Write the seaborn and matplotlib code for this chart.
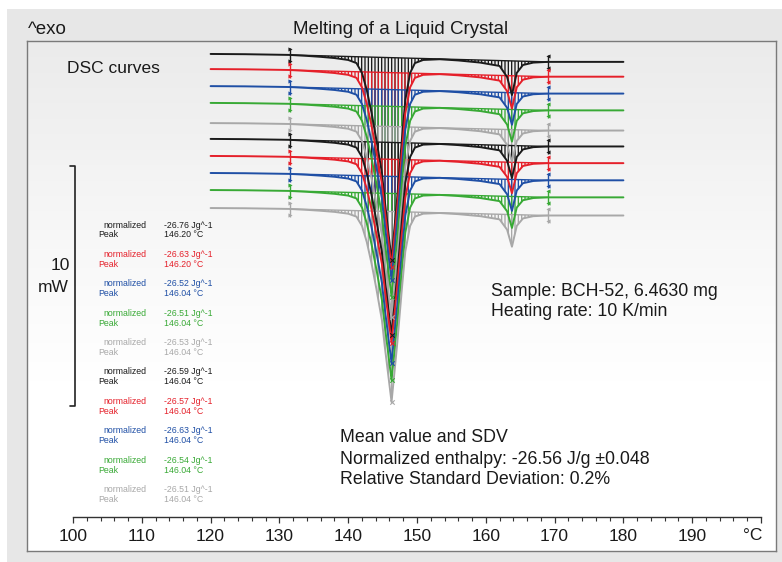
import numpy as np
import pandas as pd
import matplotlib
matplotlib.use("Agg")
import matplotlib.pyplot as plt
import seaborn as sns
from matplotlib.patches import Rectangle
from matplotlib.colors import LinearSegmentedColormap

# ---------------- data ----------------
# common DSC curve shape (mW, relative to curve start), temperatures in °C
temps = [120, 125, 131.5, 134, 136, 138, 140, 141.2, 142, 142.7,
         143.4, 144.1, 144.9, 145.3, 146.3, 147.1, 147.8, 148.3, 149.0, 149.7,
         150.9, 153.3, 156, 159.2, 162, 163.1, 163.8, 164.5, 165.4, 166.9,
         169, 175, 180]
shape_mw = [0, -0.01, -0.04, -0.08, -0.12, -0.17, -0.25, -0.38, -0.79, -1.50,
            -2.46, -3.58, -4.96, -6.08, -8.58, -6.08, -3.58, -1.92, -0.79, -0.38,
            -0.25, -0.22, -0.27, -0.36, -0.50, -0.96, -1.71, -0.79, -0.46, -0.36,
            -0.33, -0.33, -0.33]
# per run: vertical offset of curve start and depth of main melting peak (mW)
start_mw = [-0.54, -1.17, -1.88, -2.58, -3.42, -4.08, -4.79, -5.50, -6.21, -6.96]
peak_depth_mw = [8.58, 8.25, 8.08, 8.08, 8.08, 8.17, 7.79, 7.92, 7.92, 8.08]
run_colors = ["#1b1b1b", "#e5202a", "#1f4fa5", "#38a935", "#a8a8a8",
              "#1b1b1b", "#e5202a", "#1f4fa5", "#38a935", "#a8a8a8"]
enthalpy = ["-26.76", "-26.63", "-26.52", "-26.51", "-26.53",
            "-26.59", "-26.57", "-26.63", "-26.54", "-26.51"]
peak_temp = ["146.20", "146.20", "146.04", "146.04", "146.04",
             "146.04", "146.04", "146.04", "146.04", "146.04"]
integration_limits = [131.5, 169.0]
peak_T = 146.3
xticks = list(range(100, 201, 10))
xticklabels = [str(t) for t in range(100, 200, 10)] + [""]
scale_bar_mw = [-5.2, -15.2]

# ---------------- figure ----------------
sns.set_theme(style="white")
plt.rcParams["font.family"] = ["Liberation Sans", "DejaVu Sans"]
plt.rcParams["hatch.linewidth"] = 0.95

TXT = "#1a1a1a"
W, H = 782, 562
fig = plt.figure(figsize=(W / 100, H / 100), dpi=100, facecolor="white")


def fx(x):
    return x / W


def fy(y):
    return 1 - y / H


# outer grey panel
fig.patches.append(Rectangle((fx(7), 0), 1 - fx(7), fy(9), transform=fig.transFigure,
                             facecolor="#e7e7e7", edgecolor="none", zorder=-20))

# framed plotting area with soft gradient
fa = fig.add_axes([fx(27), fy(551), fx(776) - fx(27), fy(41) - fy(551)], zorder=-5)
cmap = LinearSegmentedColormap.from_list("bg", ["#ebebeb", "#f6f6f6", "#ffffff", "#ffffff"])
fa.imshow(np.linspace(0, 1, 256).reshape(-1, 1), aspect="auto", cmap=cmap,
          extent=[0, 1, 0, 1], origin="upper")
fa.set_xticks([])
fa.set_yticks([])
for s in fa.spines.values():
    s.set_color("#7a7a7a")
    s.set_linewidth(1.0)

# main axes
ax = fig.add_axes([fx(73), fy(517), fx(761) - fx(73), fy(41) - fy(517)], zorder=1)
ax.patch.set_alpha(0)

shape = np.array(shape_mw)
T = np.array(temps)
frames = []
for i in range(10):
    y = start_mw[i] + shape * (peak_depth_mw[i] / -shape.min())
    frames.append(pd.DataFrame({"T": T, "mW": y, "run": f"run{i + 1}"}))
df = pd.concat(frames, ignore_index=True)
palette = {f"run{i + 1}": run_colors[i] for i in range(10)}

t1, t2 = integration_limits
for i in range(10):
    d = df[df["run"] == f"run{i + 1}"]
    y = d["mW"].to_numpy()
    m = (T >= t1) & (T <= t2)
    y1 = y[T == t1][0]
    y2 = y[T == t2][0]
    base = np.interp(T[m], [t1, t2], [y1, y2])
    ax.fill_between(T[m], y[m], base, facecolor="none", edgecolor=run_colors[i],
                    linewidth=0, hatch="|||||", zorder=1)
    ax.plot([t1, t2], [y1, y2], color=run_colors[i], lw=1.0, zorder=1.5)
    # integration limit markers
    for t, mk, yy in ((t1, ">", y1), (t2, "<", y2)):
        ax.vlines(t, yy - 0.32, yy + 0.30, color=run_colors[i], lw=1.0, zorder=3)
        ax.scatter([t, t], [yy + 0.26, yy - 0.24], marker=mk, s=9,
                   color=run_colors[i], linewidths=0, zorder=3)
    ax.scatter([peak_T], [y.min()], marker="x", s=10, color=run_colors[i],
               linewidths=0.8, zorder=4)

sns.lineplot(data=df, x="T", y="mW", hue="run", palette=palette, legend=False,
             estimator=None, sort=False, linewidth=1.4, ax=ax, zorder=2)

ax.set_xlim(100, 200)
ax.set_ylim(-(517 - 41) / 24, 0)
ax.set_xlabel("")
ax.set_ylabel("")
ax.set_yticks([])
ax.set_xticks(xticks, xticklabels)
ax.set_xticks(list(range(100, 201, 2)), minor=True)
for s in ("top", "left", "right"):
    ax.spines[s].set_visible(False)
ax.spines["bottom"].set_color("#333333")
ax.spines["bottom"].set_linewidth(1.0)
ax.tick_params(axis="x", which="major", bottom=True, direction="out", length=4.5,
               width=0.9, color="#333333", labelsize=12.5, labelcolor=TXT, pad=4)
ax.tick_params(axis="x", which="minor", bottom=True, direction="out", length=3,
               width=0.8, color="#333333")
ax.grid(False)
ax.text(198.8, -(535 - 41) / 24, "°C", ha="center", va="center", fontsize=12.5,
        color=TXT, clip_on=False)

# 10 mW scale bar
ax.plot([99.6, 100.3, 100.3, 99.6],
        [scale_bar_mw[0], scale_bar_mw[0], scale_bar_mw[1], scale_bar_mw[1]],
        color="#222222", lw=1.2, clip_on=False)
fig.text(fx(60), fy(266), "10", ha="center", va="center", fontsize=12.5, color=TXT)
fig.text(fx(53), fy(287), "mW", ha="center", va="center", fontsize=12.5, color=TXT)

# headings and notes
fig.text(fx(28), fy(29), "^exo", ha="left", va="center", fontsize=13.5, color=TXT)
fig.text(fx(401), fy(29), "Melting of a Liquid Crystal", ha="center", va="center",
         fontsize=13.5, color=TXT)
fig.text(fx(67), fy(68), "DSC curves", ha="left", va="center", fontsize=12.5, color=TXT)
fig.text(fx(491), fy(291), "Sample: BCH-52, 6.4630 mg", ha="left", va="center",
         fontsize=12.8, color=TXT)
fig.text(fx(491), fy(311), "Heating rate: 10 K/min", ha="left", va="center",
         fontsize=12.8, color=TXT)
fig.text(fx(340), fy(438), "Mean value and SDV", ha="left", va="center",
         fontsize=12.8, color=TXT)
fig.text(fx(340), fy(459), "Normalized enthalpy: -26.56 J/g ±0.048", ha="left",
         va="center", fontsize=12.8, color=TXT)
fig.text(fx(340), fy(480), "Relative Standard Deviation: 0.2%", ha="left",
         va="center", fontsize=12.8, color=TXT)

# per-run results
for i in range(10):
    yn = 225 + 29.4 * i
    c = run_colors[i]
    fig.text(fx(103), fy(yn), "normalized", ha="left", va="center", fontsize=6.3, color=c)
    fig.text(fx(98), fy(yn + 10), "Peak", ha="left", va="center", fontsize=6.3, color=c)
    fig.text(fx(164), fy(yn), f"{enthalpy[i]} Jg^-1", ha="left", va="center",
             fontsize=6.3, color=c)
    fig.text(fx(164), fy(yn + 10), f"{peak_temp[i]} °C", ha="left", va="center",
             fontsize=6.3, color=c)

fig.savefig("out.png", dpi=100, facecolor=fig.get_facecolor())
